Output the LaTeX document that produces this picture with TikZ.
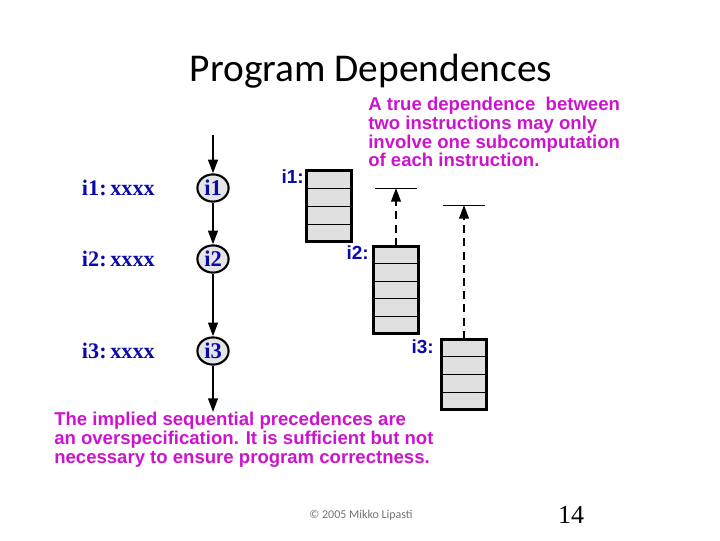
\documentclass[tikz,border=0pt]{standalone}
\usepackage{fontspec}
\setmainfont{Liberation Serif}
\newfontfamily\slidefont{Carlito}
\newfontfamily\notefont{Liberation Sans}
\usetikzlibrary{arrows.meta, positioning, calc, shapes.geometric}
\definecolor{instblue}{RGB}{10,10,170}
\definecolor{notemag}{RGB}{205,20,205}
\tikzset{
  inst/.style={draw, ellipse, line width=1.5pt, fill=black!10, inner sep=0pt,
    minimum width=0.78cm, minimum height=0.68cm, text=instblue,
    font=\fontsize{16}{16}\selectfont\bfseries},
  code/.style={anchor=west, text=instblue, font=\fontsize{15.8}{15.8}\selectfont\bfseries},
  slot/.style={draw, line width=1.6pt, fill=black!12, minimum width=1.1cm, inner sep=0pt},
  slotlabel/.style={text=instblue, inner sep=0pt, font=\notefont\fontsize{13.5}{13.5}\selectfont\bfseries},
  note/.style={anchor=north west, align=left, text=notemag, inner sep=0pt,
    font=\notefont\fontsize{13.2}{13.3}\selectfont\bfseries},
  arr/.style={-{Triangle[length=3.4mm, width=2.4mm]}, line width=1.5pt},
  dep/.style={arr, dashed, dash pattern=on 2mm off 1.3mm},
}
\begin{document}
\begin{tikzpicture}[x=0.025cm, y=-0.025cm]
  \useasboundingbox (0,0) rectangle (720,540);
  \node[font=\slidefont\fontsize{28}{28}\selectfont] (title) at (371,71) {Program Dependences};

  % sequential order
  \coordinate (top) at (213,135);
  \coordinate (bot) at (213,412);
  \foreach \i/\y in {1/188, 2/259, 3/351} {
    \node[inst] (i\i) at (213,\y) {i\i};
    \node[code] (c\i) at (77,\y) {i\i:\,xxxx};
  }
  \draw[arr] (top) -- (i1);
  \draw[arr] (i1) -- (i2);
  \draw[arr] (i2) -- (i3);
  \draw[arr] (i3) -- (bot);

  % subcomputations
  \foreach \n/\x/\y/\h/\k in {1/307/171/70/4, 2/374/247/86/5, 3/442/340/69/4} {
    \node[slot, minimum height=\h*0.025cm] (b\n) at (\x+22,\y+\h/2) {};
    \foreach \r in {1,...,\k} {
      \draw[line width=0.6pt] ($(b\n.north west)!\r/\k!(b\n.south west)$) -- ($(b\n.north east)!\r/\k!(b\n.south east)$);
    }
    \draw[line width=1.6pt] (b\n.north west) rectangle (b\n.south east);
  }
  \node[slotlabel, anchor=east] (l1) at (304,177) {i1:};
  \node[slotlabel, anchor=east] (l2) at (369,253) {i2:};
  \node[slotlabel, anchor=east] (l3) at (434,347) {i3:};

  \coordinate (t2) at (396,188);
  \coordinate (t3) at (464,205);
  \draw[line width=0.6pt] ($(t2)+(-21,0)$) -- ($(t2)+(21,0)$);
  \draw[line width=0.6pt] ($(t3)+(-21,0)$) -- ($(t3)+(21,0)$);
  \draw[dep] (b2.north) -- (t2);
  \draw[dep] (b3.north) -- (t3);

  % notes
  \node[note] (n1) at (368,97) {A true dependence\ \ between\\two instructions may only\\involve one subcomputation\\of each instruction.};
  \node[note] (n2) at (54,412) {The implied sequential precedences are\\an overspecification. It is sufficient but not\\necessary to ensure program correctness.};

  \node[text=black!55, font=\slidefont\fontsize{8.5}{8.5}\selectfont] (copy) at (361,515) {© 2005 Mikko Lipasti};
  \node[font=\fontsize{18.5}{18.5}\selectfont] (page) at (571,515) {14};
\end{tikzpicture}
\end{document}
